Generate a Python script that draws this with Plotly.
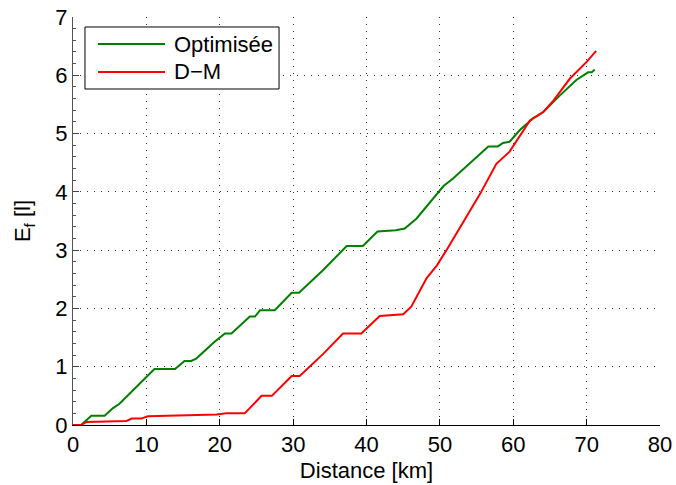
import plotly.graph_objects as go

# ---- data ----
opt_x = [0, 1.1, 2.5, 4.3, 5.45, 6.3, 11.1, 13.9, 15.2, 16.1, 16.8, 19.3, 20.7, 21.6,
         24.1, 24.8, 25.5, 27.5, 29.8, 30.8, 34.1, 36.8, 37.3, 39.5, 41.5, 44.0, 45.2,
         46.8, 50.5, 51.8, 55.2, 56.6, 57.9, 58.6, 59.5, 60.9, 62.7, 64.1, 66.4, 68.6,
         70.2, 70.7, 71.1]
opt_y = [0, 0, 0.16, 0.16, 0.29, 0.36, 0.96, 0.96, 1.10, 1.10, 1.14, 1.43, 1.57, 1.57,
         1.86, 1.86, 1.97, 1.97, 2.27, 2.27, 2.66, 3.00, 3.07, 3.07, 3.32, 3.34, 3.37,
         3.54, 4.10, 4.23, 4.63, 4.78, 4.78, 4.84, 4.86, 5.06, 5.26, 5.37, 5.66, 5.92,
         6.05, 6.05, 6.10]

dm_x = [0, 1.1, 1.8, 5.0, 5.7, 7.3, 8.0, 9.3, 10.2, 16.4, 19.6, 20.9, 23.4, 25.7, 27.1,
        29.8, 30.9, 34.1, 36.8, 39.3, 41.8, 45.0, 46.1, 48.2, 49.6, 50.9, 55.5, 57.7,
        59.5, 62.3, 64.1, 65.5, 67.7, 70.0, 71.3]
dm_y = [0, 0, 0.05, 0.06, 0.07, 0.07, 0.11, 0.11, 0.15, 0.17, 0.18, 0.20, 0.20, 0.50, 0.50,
        0.84, 0.84, 1.22, 1.57, 1.57, 1.87, 1.90, 2.03, 2.52, 2.74, 3.00, 3.97, 4.48,
        4.69, 5.23, 5.37, 5.57, 5.94, 6.23, 6.42]

series_names = ["Optimisée", "D\u2212M"]
series_colors = ["#008000", "#ff0000"]
x_ticks = [0, 10, 20, 30, 40, 50, 60, 70, 80]
y_ticks = [0, 1, 2, 3, 4, 5, 6, 7]

FONT = "Liberation Sans, Arial, Helvetica, sans-serif"
FS = 22

fig = go.Figure()
for xs, ys, name, col in [(opt_x, opt_y, series_names[0], series_colors[0]),
                          (dm_x, dm_y, series_names[1], series_colors[1])]:
    fig.add_trace(go.Scatter(x=xs, y=ys, mode="lines", name=name,
                             line=dict(color=col, width=2), showlegend=False))

grid = dict(showgrid=True, gridcolor="#333333", gridwidth=1, griddash="1px,6px")

fig.update_xaxes(range=[0, 80], tickvals=x_ticks, ticks="inside", ticklen=6,
                 tickcolor="black", showline=True, linecolor="black", linewidth=1,
                 zeroline=False, automargin=False,
                 title=dict(text="Distance [km]", font=dict(size=FS), standoff=6),
                 tickfont=dict(size=FS), **grid)
fig.update_yaxes(range=[0, 7], tickvals=y_ticks, ticks="inside", ticklen=6,
                 tickcolor="#444", showline=True, linecolor="#555", linewidth=1,
                 zeroline=False, automargin=False,
                 minor=dict(dtick=0.2, ticks="inside", ticklen=3, tickcolor="#555",
                            showgrid=False),
                 title=dict(text="E<sub>f</sub> [l]", font=dict(size=FS), standoff=18),
                 tickfont=dict(size=FS), **grid)

# legend box (manual, MATLAB-style)
leg_x0, leg_x1, leg_y0, leg_y1 = 0.0204, 0.351, 0.8235, 0.9755
fig.add_shape(type="rect", xref="paper", yref="paper", x0=leg_x0, x1=leg_x1,
              y0=leg_y0, y1=leg_y1, line=dict(color="black", width=1),
              fillcolor="white", layer="above")
for i, (name, col) in enumerate(zip(series_names, series_colors)):
    yy = [0.9338, 0.8652][i]
    fig.add_shape(type="line", xref="paper", yref="paper", x0=0.0426, x1=0.1567,
                  y0=yy, y1=yy, line=dict(color=col, width=2), layer="above")
    fig.add_annotation(xref="paper", yref="paper", x=0.1687, y=yy, text=name,
                       showarrow=False, xanchor="left", yanchor="middle",
                       font=dict(size=FS, color="black"))

fig.update_layout(width=676, height=485,
                  margin=dict(l=73, r=16, t=17, b=60),
                  paper_bgcolor="white", plot_bgcolor="white",
                  font=dict(family=FONT, size=FS, color="black"))

fig.write_html("out.html", config={"displayModeBar": False},
               post_script="document.body.style.margin='0';")
